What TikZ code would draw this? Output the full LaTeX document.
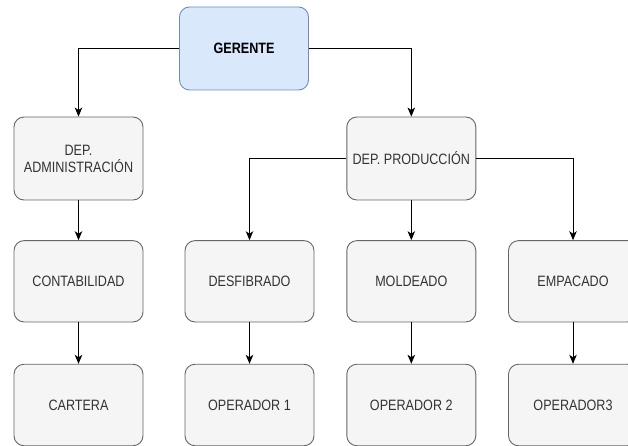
\documentclass[tikz,border=0pt]{standalone}
\usepackage{fontspec}
\setmainfont{Liberation Sans}
\usetikzlibrary{arrows.meta}
\definecolor{boxfill}{HTML}{F5F5F5}
\definecolor{boxline}{HTML}{666666}
\definecolor{bluefill}{HTML}{DAE8FC}
\definecolor{blueline}{HTML}{6C8EBF}
\definecolor{txt}{HTML}{333333}
\newcommand{\cnd}[1]{\scalebox{0.84}[1]{#1}}
\tikzset{
  orgbox/.style={draw=boxline, fill=boxfill, rounded corners=10pt, line width=0.9pt,
    minimum width=129pt, minimum height=82pt, inner sep=0pt, text=txt,
    font=\fontsize{15pt}{17pt}\selectfont, align=center},
  topbox/.style={orgbox, draw=blueline, fill=bluefill, text=black, font=\fontsize{15pt}{17pt}\selectfont\bfseries},
  conn/.style={draw=black, line width=0.9pt, -{Stealth[length=9pt,width=7.5pt,inset=2.5pt]}}
}
\begin{document}
\begin{tikzpicture}[x=1pt,y=-1pt]
\path[use as bounding box, clip] (0,0) rectangle (628,446);
\fill[white] (0,0) rectangle (628,446);
\node[topbox, minimum height=83pt] (ger) at (244,48.5) {\cnd{GERENTE}};
\node[orgbox, minimum height=83pt] (adm) at (78.5,158.5) {\cnd{DEP.}\\\cnd{ADMINISTRACIÓN}};
\node[orgbox, minimum height=83pt] (prod) at (411.3,158.5) {\cnd{DEP. PRODUCCIÓN}};
\node[orgbox, minimum height=81.3pt] (cont) at (78.5,281.3) {\cnd{CONTABILIDAD}};
\node[orgbox, minimum height=81.3pt] (desf) at (249.5,281.3) {\cnd{DESFIBRADO}};
\node[orgbox, minimum height=81.3pt] (mold) at (411.3,281.3) {\cnd{MOLDEADO}};
\node[orgbox, minimum height=81.3pt] (emp) at (573,281.3) {\cnd{EMPACADO}};
\node[orgbox, minimum height=81.5pt] (cart) at (78.5,405) {\cnd{CARTERA}};
\node[orgbox, minimum height=81.5pt] (op1) at (249.5,405) {\cnd{OPERADOR 1}};
\node[orgbox, minimum height=81.5pt] (op2) at (411.3,405) {\cnd{OPERADOR 2}};
\node[orgbox, minimum height=81.5pt] (op3) at (573,405) {\cnd{OPERADOR3}};
\draw[conn] (ger.west) -| (adm.north);
\draw[conn] (ger.east) -| (prod.north);
\draw[conn] (prod.west) -| (desf.north);
\draw[conn] (prod.east) -| (emp.north);
\draw[conn] (prod.south) -- (mold.north);
\draw[conn] (adm.south) -- (cont.north);
\draw[conn] (cont.south) -- (cart.north);
\draw[conn] (desf.south) -- (op1.north);
\draw[conn] (mold.south) -- (op2.north);
\draw[conn] (emp.south) -- (op3.north);
\end{tikzpicture}
\end{document}
